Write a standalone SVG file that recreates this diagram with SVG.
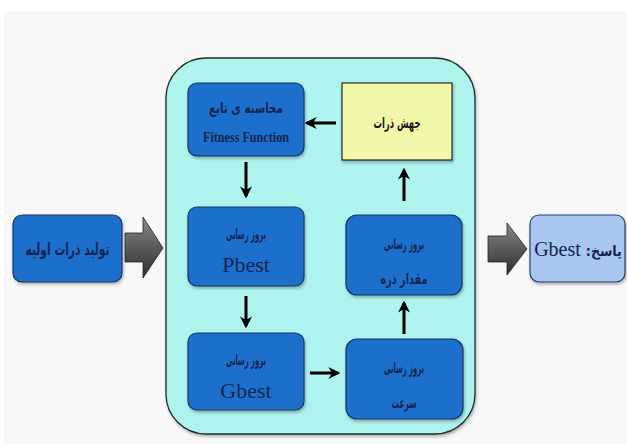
<svg xmlns="http://www.w3.org/2000/svg" width="627" height="444" viewBox="0 0 627 444">
<defs>
<style>
.blue{fill:#1a6fcc;stroke:#1b3560;stroke-width:1.2}
.fa{font-family:"DejaVu Sans Condensed","DejaVu Sans",sans-serif;font-weight:bold;font-size:15px;fill:#13244f;text-anchor:middle}
.en{font-family:"Liberation Serif",serif;fill:#13244f;text-anchor:middle}
.conn{stroke:#000;stroke-width:3;fill:none;marker-end:url(#ah)}
.big{stroke:#222;stroke-width:0.8;fill:url(#gg)}
</style>
<marker id="ah" viewBox="0 0 10 10" refX="8" refY="5" markerWidth="4" markerHeight="4" orient="auto" markerUnits="strokeWidth">
<path d="M0,0 L10,5 L0,10 L3,5 Z" fill="#000"/>
</marker>
<linearGradient id="gg" x1="0" y1="0" x2="0" y2="1">
<stop offset="0" stop-color="#8a8a8a"/>
<stop offset="0.5" stop-color="#5a5a5a"/>
<stop offset="1" stop-color="#2e2e2e"/>
</linearGradient>
<filter id="sh" x="-10%" y="-10%" width="130%" height="130%">
<feDropShadow dx="1" dy="2" stdDeviation="1.5" flood-color="#000" flood-opacity="0.3"/>
</filter>
</defs>
<rect x="0" y="0" width="627" height="444" fill="#ffffff"/>
<rect x="4" y="11" width="623" height="433" fill="#f8f8f8"/>

<g id="container">
<rect x="166" y="58" width="309" height="376" rx="40" ry="40" fill="#aff3ee" stroke="#1e2d2e" stroke-width="1.3" filter="url(#sh)"/>
</g>

<g id="init">
<rect class="blue" x="13" y="215" width="109" height="67" rx="9" filter="url(#sh)"/>
<text class="fa" x="67.5" y="255" style="font-size:17px" textLength="84" lengthAdjust="spacingAndGlyphs">تولید ذرات اولیه</text>
</g>

<g id="fitness">
<rect class="blue" x="188" y="83" width="116" height="73" rx="9" filter="url(#sh)"/>
<text class="fa" x="246" y="113" textLength="74" lengthAdjust="spacingAndGlyphs">محاسبه ی تابع</text>
<text class="en" x="246" y="142" font-size="14" font-weight="bold" textLength="86" lengthAdjust="spacingAndGlyphs">Fitness Function</text>
</g>

<g id="mutation">
<rect x="342" y="83" width="110" height="77" fill="#f2f6a8" stroke="#1e2a2a" stroke-width="1.2" filter="url(#sh)"/>
<text class="fa" x="397" y="128" style="fill:#1a1a1a" textLength="47" lengthAdjust="spacingAndGlyphs">جهش ذرات</text>
</g>

<g id="pbest">
<rect class="blue" x="188" y="207" width="116" height="79" rx="9" filter="url(#sh)"/>
<text class="fa" x="246" y="239" textLength="40" lengthAdjust="spacingAndGlyphs">بروز رسانی</text>
<text class="en" x="246" y="272" font-size="22">Pbest</text>
</g>

<g id="position">
<rect class="blue" x="346" y="215" width="116" height="80" rx="11" filter="url(#sh)"/>
<text class="fa" x="404" y="249" textLength="40" lengthAdjust="spacingAndGlyphs">بروز رسانی</text>
<text class="fa" x="404" y="284" textLength="47" lengthAdjust="spacingAndGlyphs">مقدار ذره</text>
</g>

<g id="gbest">
<rect class="blue" x="188" y="333" width="116" height="77" rx="9" filter="url(#sh)"/>
<text class="fa" x="246" y="365" textLength="40" lengthAdjust="spacingAndGlyphs">بروز رسانی</text>
<text class="en" x="246" y="398" font-size="22">Gbest</text>
</g>

<g id="velocity">
<rect class="blue" x="346" y="339" width="117" height="80" rx="11" filter="url(#sh)"/>
<text class="fa" x="404" y="373" textLength="40" lengthAdjust="spacingAndGlyphs">بروز رسانی</text>
<text class="fa" x="404" y="408" textLength="25" lengthAdjust="spacingAndGlyphs">سرعت</text>
</g>

<g id="output">
<rect x="530" y="215" width="95" height="67" rx="9" fill="#a9c6f0" stroke="#24406e" stroke-width="1.2" filter="url(#sh)"/>
<text x="578" y="256" text-anchor="middle" direction="rtl" style="unicode-bidi:embed" fill="#13244f"><tspan font-family="DejaVu Sans Condensed, DejaVu Sans, sans-serif" font-weight="bold" font-size="14">پاسخ:</tspan><tspan font-family="Liberation Serif, serif" font-size="20"> Gbest</tspan></text>
</g>

<g id="connectors">
<path class="big" d="M125,233 H143 V217 L163,248 L143,278 V262 H125 Z"/>
<path class="big" d="M488,236 H507 V223 L527,249 L507,275 V262 H488 Z"/>
<line class="conn" x1="336" y1="123" x2="307" y2="123"/>
<line class="conn" x1="246" y1="162" x2="246" y2="196"/>
<line class="conn" x1="246" y1="296" x2="246" y2="326"/>
<line class="conn" x1="310" y1="373" x2="338" y2="373"/>
<line class="conn" x1="404" y1="334" x2="404" y2="303"/>
<line class="conn" x1="404" y1="201" x2="404" y2="170"/>
</g>
</svg>
